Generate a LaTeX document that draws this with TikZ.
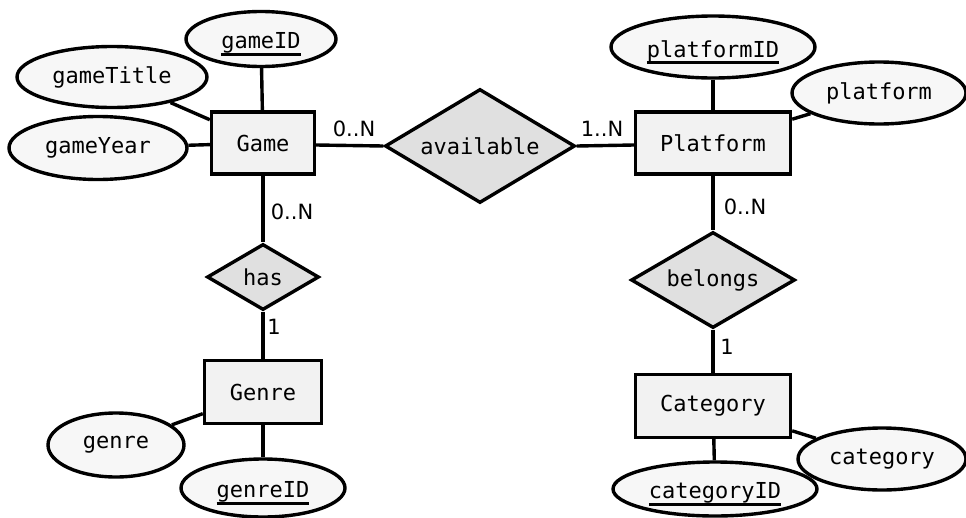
\documentclass[tikz,border=0pt]{standalone}
\usepackage{fontspec}
\setmainfont{DejaVu Sans}
\newfontfamily\monofam{DejaVu Sans Mono}
\usetikzlibrary{shapes.geometric}
% key attribute: text with a thick rule beneath it, set a little low
\newcommand\keyattr[1]{\setbox0\hbox{#1}%
  \raisebox{-4pt}[\ht0][\dp0]{\rlap{\rule[-7pt]{\wd0}{3pt}}\copy0}}
\tikzset{
  every picture/.style={line width=3.4pt},
  entity/.style={draw, rectangle, fill=black!5, inner sep=0pt,
    font=\monofam\fontsize{22}{26}\selectfont},
  attr/.style={draw, ellipse, fill=black!3, inner sep=0pt,
    font=\monofam\fontsize{22}{26}\selectfont},
  rel/.style={draw, diamond, fill=black!12, inner sep=0pt,
    font=\monofam\fontsize{22}{26}\selectfont},
  card/.style={inner sep=0pt, font=\fontsize{21}{25}\selectfont},
}
\begin{document}
\begin{tikzpicture}[x=1pt,y=-1pt]
\useasboundingbox (0,0) rectangle (966,517);

% entities
\node[entity, minimum width=103pt, minimum height=62pt] (game) at (263,143) {Game};
\node[entity, minimum width=155pt, minimum height=62pt] (platform) at (713,143) {Platform};
\node[entity, minimum width=117pt, minimum height=63pt] (genre) at (263,392) {Genre};
\node[entity, minimum width=155pt, minimum height=63pt] (category) at (713,406) {Category};

% relationships
\node[rel, aspect=1.67, minimum width=190pt, minimum height=114pt] (available) at (480,146) {available};
\node[rel, aspect=1.7, minimum width=112pt, minimum height=66pt] (has) at (263,277) {has};
\node[rel, aspect=1.71, minimum width=164pt, minimum height=96pt] (belongs) at (713,280) {belongs};

% attributes
\node[attr, minimum width=150pt, minimum height=55pt] (gameID) at (261,39) {\keyattr{gameID}};
\node[attr, minimum width=190pt, minimum height=61pt] (gameTitle) at (112,77) {gameTitle};
\node[attr, minimum width=178pt, minimum height=63pt] (gameYear) at (98,148) {gameYear};
\node[attr, minimum width=204pt, minimum height=62pt] (platformID) at (713,47) {\keyattr{platformID}};
\node[attr, minimum width=174pt, minimum height=62pt] (platformName) at (879,93) {platform};
\node[attr, minimum width=136pt, minimum height=64pt] (genreName) at (116,445) {genre};
\node[attr, minimum width=164pt, minimum height=58pt] (genreID) at (263,488) {\keyattr{genreID}};
\node[attr, minimum width=168pt, minimum height=62pt] (categoryName) at (882,459) {category};
\node[attr, minimum width=204pt, minimum height=54pt] (categoryID) at (715,489) {\keyattr{categoryID}};

% connectors
\draw (gameID) -- (game);
\draw (gameTitle) -- (game);
\draw (gameYear) -- (game);
\draw (game.east |- 0,145) -- (available.west);
\draw (available.east) -- (platform.west |- 0,145);
\draw (platformID) -- (platform);
\draw (platformName) -- (platform);
\draw (game) -- (has);
\draw (has) -- (genre);
\draw (genreName) -- (genre);
\draw (genreID) -- (genre);
\draw (platform) -- (belongs);
\draw (belongs) -- (category);
\draw (category) -- (categoryName);
\draw (category) -- (categoryID);

% cardinalities
\node[card] (c1) at (354,129) {0..N};
\node[card] (c2) at (602,129) {1..N};
\node[card] (c3) at (292,212) {0..N};
\node[card] (c4) at (274,327) {1};
\node[card] (c5) at (745,207) {0..N};
\node[card] (c6) at (727,347) {1};
\end{tikzpicture}
\end{document}
